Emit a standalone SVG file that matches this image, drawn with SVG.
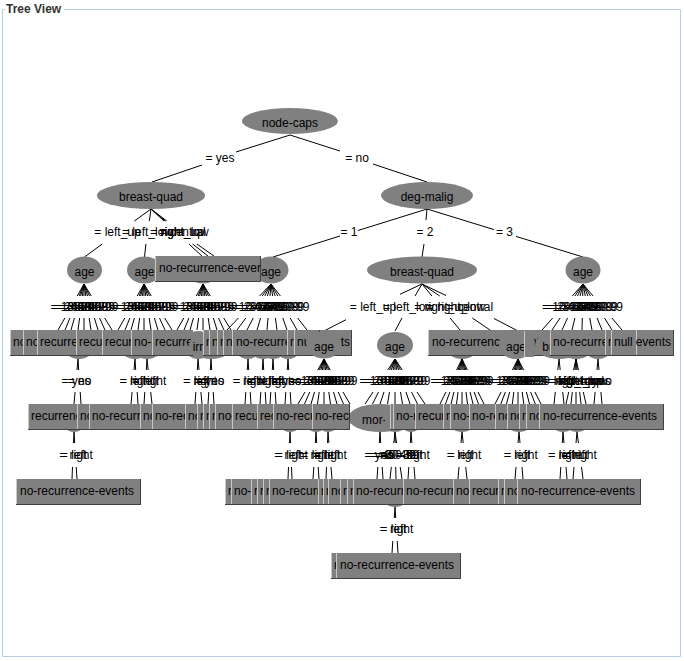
<svg xmlns="http://www.w3.org/2000/svg" width="684" height="661" viewBox="0 0 684 661">
<style>
.t{font-family:"Liberation Sans",Arial,sans-serif;font-size:12px;fill:#000}
.lb{font-family:"Liberation Sans",Arial,sans-serif;font-size:12px;fill:#000;text-anchor:middle}
.m{text-anchor:middle}
.e{fill:#808080}
.b{fill:#808080}
.l{stroke:#c8c8c8;fill:none}
.d{stroke:#404040;fill:none}
.c path{stroke:#000;stroke-width:1;fill:none}
.fr{stroke:#b5cde6;fill:none}
.ti{font-family:"Liberation Sans",Arial,sans-serif;font-size:12px;font-weight:bold;fill:#333}
</style>
<rect width="684" height="661" fill="#fff"/>
<path class="fr" d="M5 9.5H2.5V656.5H680.5V9.5H64"/>
<text class="ti" x="6" y="13">Tree View</text>

<g id="connectors" class="c">
<path d="M290 135L236 152M202 165L152 182"/>
<path d="M290 135L340 151M373 164L427 182"/>
<path d="M151 209L134.3 221M102.2 244L84.5 257"/>
<path d="M151 209L149.3 221M145.9 244L144.5 257"/>
<path d="M151 209L164 221M188.9 244L203 257"/>
<path d="M151 209L165.3 221M192.6 244L208 256"/>
<path d="M151 209L166.8 221M196.9 244L214 256"/>
<path d="M427 209L358 230.5M340 236L273 257"/>
<path d="M427 209L426 220M424 244L422 257"/>
<path d="M427 209L494 229.6M516 236.4L583 257"/>
<path d="M84 284L77.2 296M64.8 318L58 330"/><path d="M84 284L79.1 296M69.9 318L65 330"/><path d="M84 284L80.6 296M74.4 318L71 330"/><path d="M84 284L82.4 296M79.6 318L78 330"/><path d="M84 284L84 296M84 318L84 330"/><path d="M84 284L85.8 296M89.2 318L91 330"/><path d="M84 284L87.6 296M94.4 318L98 330"/><path d="M84 284L89.5 296M99.5 318L105 330"/><path d="M84 284L91.3 296M104.7 318L112 330"/>
<path d="M144 284L137.2 296M124.8 318L118 330"/><path d="M144 284L139.1 296M129.9 318L125 330"/><path d="M144 284L140.6 296M134.4 318L131 330"/><path d="M144 284L142.4 296M139.6 318L138 330"/><path d="M144 284L144 296M144 318L144 330"/><path d="M144 284L145.8 296M149.2 318L151 330"/><path d="M144 284L147.6 296M154.4 318L158 330"/><path d="M144 284L149.5 296M159.5 318L165 330"/><path d="M144 284L151.3 296M164.7 318L172 330"/>
<path d="M203 284L196.2 296M183.8 318L177 330"/><path d="M203 284L198.1 296M188.9 318L184 330"/><path d="M203 284L199.6 296M193.4 318L190 330"/><path d="M203 284L201.4 296M198.6 318L197 330"/><path d="M203 284L203 296M203 318L203 330"/><path d="M203 284L204.8 296M208.2 318L210 330"/><path d="M203 284L206.6 296M213.4 318L217 330"/><path d="M203 284L208.5 296M218.5 318L224 330"/><path d="M203 284L210.3 296M223.7 318L231 330"/>
<path d="M271 284L259.6 296M238.4 318L227 330"/><path d="M271 284L262.2 296M245.8 318L237 330"/><path d="M271 284L264.8 296M253.2 318L247 330"/><path d="M271 284L267.4 296M260.6 318L257 330"/><path d="M271 284L270 296M268 318L267 330"/><path d="M271 284L272.6 296M275.4 318L277 330"/><path d="M271 284L275.2 296M282.8 318L287 330"/><path d="M271 284L277.8 296M290.2 318L297 330"/><path d="M271 284L280.4 296M297.6 318L307 330"/>
<path d="M422 284L400 294.3M346 319.7L324 331"/><path d="M422 284L415 296M402 318L395 331"/><path d="M422 284L431.9 296M450.1 318L460 330"/><path d="M422 284L439.7 296M472.3 318L490 330"/><path d="M422 284L446 295.5M494 318.5L518 331"/>
<path d="M583 284L572.3 296M552.7 318L542 330"/><path d="M583 284L574.9 296M560.1 318L552 330"/><path d="M583 284L577.5 296M567.5 318L562 330"/><path d="M583 284L580.1 296M574.9 318L572 330"/><path d="M583 284L582.7 296M582.3 318L582 330"/><path d="M583 284L585.3 296M589.7 318L592 330"/><path d="M583 284L587.9 296M597.1 318L602 330"/><path d="M583 284L590.5 296M604.5 318L612 330"/><path d="M583 284L593.1 296M611.9 318L622 330"/>
<path d="M78 359L77 370M75.1 392L74 404"/><path d="M78 359L78.7 370M80.2 392L81 404"/>
<path d="M135 359L134 370M132.1 392L131 404"/><path d="M135 359L135.7 370M137.2 392L138 404"/>
<path d="M147 359L146.3 370M144.8 392L144 404"/><path d="M147 359L148.2 370M150.7 392L152 404"/>
<path d="M198 359L197.3 370M195.8 392L195 404"/><path d="M198 359L199 370M200.9 392L202 404"/>
<path d="M211 359L210.3 370M208.8 392L208 404"/><path d="M211 359L211.7 370M213.2 392L214 404"/>
<path d="M248 359L247.3 370M245.8 392L245 404"/><path d="M248 359L248.7 370M250.2 392L251 404"/>
<path d="M263 359L262.3 370M260.8 392L260 404"/><path d="M263 359L263.7 370M265.2 392L266 404"/>
<path d="M273 359L272.3 370M270.8 392L270 404"/><path d="M273 359L273.7 370M275.2 392L276 404"/>
<path d="M288 359L287.3 370M285.8 392L285 404"/><path d="M288 359L288.7 370M290.2 392L291 404"/>
<path d="M324 359L317.7 370M305 392L298 404"/><path d="M324 359L319.2 370M309.7 392L304.5 404"/><path d="M324 359L320.8 370M314.5 392L311 404"/><path d="M324 359L322.4 370M319.2 392L317.5 404"/><path d="M324 359L324 370M324 392L324 404"/><path d="M324 359L325.6 370M328.8 392L330.5 404"/><path d="M324 359L327.2 370M333.5 392L337 404"/><path d="M324 359L328.8 370M338.3 392L343.5 404"/><path d="M324 359L330.3 370M343 392L350 404"/>
<path d="M395 359L387.7 370M373 392L365 404"/><path d="M395 359L389.5 370M378.5 392L372.5 404"/><path d="M395 359L391.3 370M384 392L380 404"/><path d="M395 359L393.2 370M389.5 392L387.5 404"/><path d="M395 359L395 370M395 392L395 404"/><path d="M395 359L396.8 370M400.5 392L402.5 404"/><path d="M395 359L398.7 370M406 392L410 404"/><path d="M395 359L400.5 370M411.5 392L417.5 404"/><path d="M395 359L402.3 370M417 392L425 404"/>
<path d="M462 359L456.6 370M445.9 392L440 404"/><path d="M462 359L458 370M449.9 392L445.5 404"/><path d="M462 359L459.3 370M453.9 392L451 404"/><path d="M462 359L460.7 370M458 392L456.5 404"/><path d="M462 359L462 370M462 392L462 404"/><path d="M462 359L463.3 370M466 392L467.5 404"/><path d="M462 359L464.7 370M470.1 392L473 404"/><path d="M462 359L466 370M474.1 392L478.5 404"/><path d="M462 359L467.4 370M478.1 392L484 404"/>
<path d="M518 359L512.4 370M501.1 392L495 404"/><path d="M518 359L513.8 370M505.4 392L500.8 404"/><path d="M518 359L515.2 370M509.6 392L506.5 404"/><path d="M518 359L516.6 370M513.8 392L512.3 404"/><path d="M518 359L518 370M518 392L518 404"/><path d="M518 359L519.4 370M522.2 392L523.8 404"/><path d="M518 359L520.8 370M526.4 392L529.5 404"/><path d="M518 359L522.2 370M530.6 392L535.3 404"/><path d="M518 359L523.6 370M534.9 392L541 404"/>
<path d="M559 359L557.8 370M555.3 392L554 404"/><path d="M559 359L560.2 370M562.7 392L564 404"/>
<path d="M576 359L573.6 370M568.7 392L566 404"/><path d="M576 359L574.8 370M572.3 392L571 404"/><path d="M576 359L576 370M576 392L576 404"/><path d="M576 359L577.2 370M579.7 392L581 404"/><path d="M576 359L578.4 370M583.3 392L586 404"/>
<path d="M598 359L597 370M595.1 392L594 404"/><path d="M598 359L599 370M600.9 392L602 404"/>
<path d="M74 432L73.5 443M72.5 467L72 479"/><path d="M74 432L74.7 443M76.2 467L77 479"/>
<path d="M290 432L289.5 443M288.5 467L288 479"/><path d="M290 432L290.5 443M291.5 467L292 479"/>
<path d="M316 432L315.3 443M313.8 467L313 479"/><path d="M316 432L316.7 443M318.2 467L319 479"/>
<path d="M328 432L327.5 443M326.5 467L326 479"/><path d="M328 432L328.9 443M331 467L332 479"/>
<path d="M380 432L379.3 443M377.8 467L377 479"/><path d="M380 432L380.7 443M382.2 467L383 479"/>
<path d="M395 432L393.8 443M391.3 467L390 479"/><path d="M395 432L395.2 443M395.7 467L396 479"/><path d="M395 432L396.6 443M400.2 467L402 479"/>
<path d="M411 432L410.3 443M408.8 467L408 479"/><path d="M411 432L411.9 443M414 467L415 479"/>
<path d="M462 432L461 443M459 467L458 479"/><path d="M462 432L463.2 443M465.7 467L467 479"/>
<path d="M519 432L518 443M516 467L515 479"/><path d="M519 432L520 443M522 467L523 479"/>
<path d="M563 432L562.3 443M560.8 467L560 479"/><path d="M563 432L564 443M566 467L567 479"/>
<path d="M577 432L576 443M574 467L573 479"/><path d="M577 432L578.4 443M581.5 467L583 479"/>
<path d="M395 507L394.3 518M392.8 541L392 553"/><path d="M395 507L395.7 518M397.2 541L398 553"/>
</g>

<g id="edge-labels">
<text class="lb" x="220" y="162">= yes</text>
<text class="lb" x="357" y="162">= no</text>
<text class="lb" x="117.5" y="236">= left_up</text>
<text class="lb" x="147.5" y="236">= left_low</text>
<text class="lb" x="177" y="236">= right_up</text>
<text class="lb" x="179.5" y="236">= right_low</text>
<text class="lb" x="182.5" y="236">= central</text>
<text class="lb" x="349" y="236">= 1</text>
<text class="lb" x="425" y="236">= 2</text>
<text class="lb" x="504.5" y="236">= 3</text>
<text class="lb" x="71" y="311">= 10-19</text><text class="lb" x="74.5" y="311">= 20-29</text><text class="lb" x="77.5" y="311">= 30-39</text><text class="lb" x="81" y="311">= 40-49</text><text class="lb" x="84" y="311">= 50-59</text><text class="lb" x="87.5" y="311">= 60-69</text><text class="lb" x="91" y="311">= 70-79</text><text class="lb" x="94.5" y="311">= 80-89</text><text class="lb" x="98" y="311">= 90-99</text>
<text class="lb" x="131" y="311">= 10-19</text><text class="lb" x="134.5" y="311">= 20-29</text><text class="lb" x="137.5" y="311">= 30-39</text><text class="lb" x="141" y="311">= 40-49</text><text class="lb" x="144" y="311">= 50-59</text><text class="lb" x="147.5" y="311">= 60-69</text><text class="lb" x="151" y="311">= 70-79</text><text class="lb" x="154.5" y="311">= 80-89</text><text class="lb" x="158" y="311">= 90-99</text>
<text class="lb" x="190" y="311">= 10-19</text><text class="lb" x="193.5" y="311">= 20-29</text><text class="lb" x="196.5" y="311">= 30-39</text><text class="lb" x="200" y="311">= 40-49</text><text class="lb" x="203" y="311">= 50-59</text><text class="lb" x="206.5" y="311">= 60-69</text><text class="lb" x="210" y="311">= 70-79</text><text class="lb" x="213.5" y="311">= 80-89</text><text class="lb" x="217" y="311">= 90-99</text>
<text class="lb" x="249" y="311">= 10-19</text><text class="lb" x="254" y="311">= 20-29</text><text class="lb" x="259" y="311">= 30-39</text><text class="lb" x="264" y="311">= 40-49</text><text class="lb" x="269" y="311">= 50-59</text><text class="lb" x="274" y="311">= 60-69</text><text class="lb" x="279" y="311">= 70-79</text><text class="lb" x="284" y="311">= 80-89</text><text class="lb" x="289" y="311">= 90-99</text>
<text class="lb" x="373" y="311">= left_up</text><text class="lb" x="408.5" y="311">= left_low</text><text class="lb" x="441" y="311">= right_up</text><text class="lb" x="456" y="311">= right_low</text><text class="lb" x="470" y="311">= central</text>
<text class="lb" x="562.5" y="311">= 10-19</text><text class="lb" x="567.5" y="311">= 20-29</text><text class="lb" x="572.5" y="311">= 30-39</text><text class="lb" x="577.5" y="311">= 40-49</text><text class="lb" x="582.5" y="311">= 50-59</text><text class="lb" x="587.5" y="311">= 60-69</text><text class="lb" x="592.5" y="311">= 70-79</text><text class="lb" x="597.5" y="311">= 80-89</text><text class="lb" x="602.5" y="311">= 90-99</text>
<text class="lb" x="76" y="385">= yes</text><text class="lb" x="79.5" y="385">= no</text>
<text class="lb" x="133" y="385">= left</text><text class="lb" x="136.5" y="385">= right</text>
<text class="lb" x="145.5" y="385">= left</text><text class="lb" x="149.5" y="385">= right</text>
<text class="lb" x="196.5" y="385">= left</text><text class="lb" x="200" y="385">= right</text>
<text class="lb" x="209.5" y="385">= yes</text><text class="lb" x="212.5" y="385">= no</text>
<text class="lb" x="246.5" y="385">= left</text><text class="lb" x="249.5" y="385">= right</text>
<text class="lb" x="261.5" y="385">= left</text><text class="lb" x="264.5" y="385">= right</text>
<text class="lb" x="271.5" y="385">= left</text><text class="lb" x="274.5" y="385">= right</text>
<text class="lb" x="286.5" y="385">= yes</text><text class="lb" x="289.5" y="385">= no</text>
<text class="lb" x="311" y="385">= 10-19</text><text class="lb" x="314.3" y="385">= 20-29</text><text class="lb" x="317.5" y="385">= 30-39</text><text class="lb" x="320.8" y="385">= 40-49</text><text class="lb" x="324" y="385">= 50-59</text><text class="lb" x="327.3" y="385">= 60-69</text><text class="lb" x="330.5" y="385">= 70-79</text><text class="lb" x="333.8" y="385">= 80-89</text><text class="lb" x="337" y="385">= 90-99</text>
<text class="lb" x="380" y="385">= 10-19</text><text class="lb" x="383.8" y="385">= 20-29</text><text class="lb" x="387.5" y="385">= 30-39</text><text class="lb" x="391.3" y="385">= 40-49</text><text class="lb" x="395" y="385">= 50-59</text><text class="lb" x="398.8" y="385">= 60-69</text><text class="lb" x="402.5" y="385">= 70-79</text><text class="lb" x="406.3" y="385">= 80-89</text><text class="lb" x="410" y="385">= 90-99</text>
<text class="lb" x="451" y="385">= 10-19</text><text class="lb" x="453.8" y="385">= 20-29</text><text class="lb" x="456.5" y="385">= 30-39</text><text class="lb" x="459.3" y="385">= 40-49</text><text class="lb" x="462" y="385">= 50-59</text><text class="lb" x="464.8" y="385">= 60-69</text><text class="lb" x="467.5" y="385">= 70-79</text><text class="lb" x="470.3" y="385">= 80-89</text><text class="lb" x="473" y="385">= 90-99</text>
<text class="lb" x="506.5" y="385">= 10-19</text><text class="lb" x="509.4" y="385">= 20-29</text><text class="lb" x="512.3" y="385">= 30-39</text><text class="lb" x="515.1" y="385">= 40-49</text><text class="lb" x="518" y="385">= 50-59</text><text class="lb" x="520.9" y="385">= 60-69</text><text class="lb" x="523.8" y="385">= 70-79</text><text class="lb" x="526.6" y="385">= 80-89</text><text class="lb" x="529.5" y="385">= 90-99</text>
<text class="lb" x="556.5" y="385">= left</text><text class="lb" x="561.5" y="385">= right</text>
<text class="lb" x="571" y="385">= left_up</text><text class="lb" x="573.5" y="385">= left_low</text><text class="lb" x="576" y="385">= right_up</text><text class="lb" x="578.5" y="385">= right_low</text><text class="lb" x="581" y="385">= central</text>
<text class="lb" x="596" y="385">= yes</text><text class="lb" x="600" y="385">= no</text>
<text class="lb" x="74" y="459">= left</text><text class="lb" x="76" y="459">= right</text>
<text class="lb" x="289" y="459">= left</text><text class="lb" x="291" y="459">= right</text>
<text class="lb" x="314.5" y="459">= left</text><text class="lb" x="317" y="459">= right</text>
<text class="lb" x="327.5" y="459">= left</text><text class="lb" x="330" y="459">= right</text>
<text class="lb" x="379" y="459">= yes</text><text class="lb" x="381.5" y="459">= no</text>
<text class="lb" x="392.5" y="459">= 40-49</text><text class="lb" x="395.5" y="459">= 30-39</text><text class="lb" x="398.5" y="459">= 50-59</text>
<text class="lb" x="409.5" y="459">= left</text><text class="lb" x="413" y="459">= right</text>
<text class="lb" x="460" y="459">= left</text><text class="lb" x="464.5" y="459">= right</text>
<text class="lb" x="517" y="459">= left</text><text class="lb" x="521" y="459">= right</text>
<text class="lb" x="561.5" y="459">= left</text><text class="lb" x="565" y="459">= right</text>
<text class="lb" x="575" y="459">= left</text><text class="lb" x="580" y="459">= right</text>
<text class="lb" x="393.5" y="533">= left</text><text class="lb" x="396.5" y="533">= right</text>
</g>

<g id="node-caps"><ellipse class="e" cx="290" cy="121" rx="48" ry="13"/><text class="t m" x="290" y="127">node-caps</text></g>
<g id="breast-quad-1"><ellipse class="e" cx="151" cy="195.5" rx="54" ry="13.5"/><text class="t m" x="151" y="201">breast-quad</text></g>
<g id="deg-malig"><ellipse class="e" cx="427" cy="195.5" rx="46" ry="13.5"/><text class="t m" x="427" y="201">deg-malig</text></g>

<g id="age-2a"><ellipse class="e" cx="84.5" cy="270" rx="17.5" ry="13.5"/><text class="t m" x="84.5" y="276">age</text></g>
<g id="age-2b"><ellipse class="e" cx="144.5" cy="270" rx="17.5" ry="13.5"/><text class="t m" x="144.5" y="276">age</text></g>
<g id="age-2c"><ellipse class="e" cx="203" cy="270" rx="17.5" ry="13.5"/></g>
<g id="age-2d"><ellipse class="e" cx="271" cy="270" rx="17.5" ry="13.5"/><text class="t m" x="271" y="276">age</text></g>
<g id="leaf-2"><svg x="155" y="256" width="106" height="26"><rect class="b" width="106" height="26"/><path class="l" d="M0.5 0V26"/><path class="d" d="M0 25.5H105.5V0"/><text class="t" x="4" y="16">no-recurrence-events</text></svg></g>
<g id="breast-quad-2"><ellipse class="e" cx="422" cy="270" rx="55" ry="13.5"/><text class="t m" x="422" y="276">breast-quad</text></g>
<g id="age-2e"><ellipse class="e" cx="583" cy="270" rx="17.5" ry="13.5"/><text class="t m" x="583" y="276">age</text></g>

<g id="h3"><ellipse class="e" cx="79" cy="345" rx="16" ry="14"/><ellipse class="e" cx="135" cy="345" rx="16" ry="14"/><ellipse class="e" cx="147" cy="345" rx="16" ry="14"/><ellipse class="e" cx="198" cy="345" rx="14" ry="14"/><ellipse class="e" cx="248" cy="345" rx="14" ry="14"/><ellipse class="e" cx="263" cy="345" rx="14" ry="14"/><ellipse class="e" cx="273" cy="345" rx="14" ry="14"/><ellipse class="e" cx="288" cy="345" rx="14" ry="14"/><ellipse class="e" cx="462" cy="345" rx="17" ry="14"/><ellipse class="e" cx="576" cy="345" rx="18" ry="14"/><ellipse class="e" cx="598" cy="345" rx="15" ry="14"/></g>
<g id="r3-1"><svg x="10" y="330" width="13" height="26"><rect class="b" width="13" height="26"/><path class="l" d="M0.5 0V26"/><path class="d" d="M0 25.5H13"/><text class="t" x="3" y="16">no-recurrence-events</text></svg></g>
<g id="r3-2"><svg x="23" y="330" width="14" height="26"><rect class="b" width="14" height="26"/><path class="l" d="M0.5 0V26"/><path class="d" d="M0 25.5H14"/><text class="t" x="3" y="16">no-recurrence-events</text></svg></g>
<g id="r3-3"><svg x="37" y="330" width="39" height="26"><rect class="b" width="39" height="26"/><path class="l" d="M0.5 0V26"/><path class="d" d="M0 25.5H39"/><text class="t" x="3" y="16">recurrence-events</text></svg></g>
<g id="r3-4"><svg x="76" y="330" width="26" height="26"><rect class="b" width="26" height="26"/><path class="l" d="M0.5 0V26"/><path class="d" d="M0 25.5H26"/><text class="t" x="3" y="16">recurrence-events</text></svg></g>
<g id="r3-5"><svg x="102" y="330" width="29" height="26"><rect class="b" width="29" height="26"/><path class="l" d="M0.5 0V26"/><path class="d" d="M0 25.5H29"/><text class="t" x="3" y="16">recurrence-events</text></svg></g>
<g id="r3-6"><svg x="131" y="330" width="21" height="26"><rect class="b" width="21" height="26"/><path class="l" d="M0.5 0V26"/><path class="d" d="M0 25.5H21"/><text class="t" x="3" y="16">no-recurrence-events</text></svg></g>
<g id="r3-7"><svg x="152" y="330" width="41" height="26"><rect class="b" width="41" height="26"/><path class="l" d="M0.5 0V26"/><path class="d" d="M0 25.5H41"/><text class="t" x="3" y="16">recurrence-events</text></svg></g>
<g id="irradiat"><ellipse class="e" cx="211" cy="345" rx="22" ry="14"/><text class="t m" x="211" y="351">irradiat</text></g>
<g id="r3-8"><svg x="203" y="330" width="6" height="26"><rect class="b" width="6" height="26"/><path class="l" d="M0.5 0V26"/><path class="d" d="M0 25.5H6"/><text class="t" x="3" y="16">no-recurrence-events</text></svg></g>
<g id="r3-9"><svg x="209" y="330" width="8" height="26"><rect class="b" width="8" height="26"/><path class="l" d="M0.5 0V26"/><path class="d" d="M0 25.5H8"/><text class="t" x="3" y="16">null</text></svg></g>
<g id="r3-10"><svg x="217" y="330" width="6" height="26"><rect class="b" width="6" height="26"/><path class="l" d="M0.5 0V26"/><path class="d" d="M0 25.5H6"/><text class="t" x="3" y="16">no-recurrence-events</text></svg></g>
<g id="r3-11"><svg x="223" y="330" width="9" height="26"><rect class="b" width="9" height="26"/><path class="l" d="M0.5 0V26"/><path class="d" d="M0 25.5H9"/><text class="t" x="3" y="16">no-recurrence-events</text></svg></g>
<g id="r3-12"><svg x="232" y="330" width="120" height="26"><rect class="b" width="120" height="26"/><path class="l" d="M0.5 0V26"/><path class="d" d="M0 25.5H119.5V0"/><text class="t" x="4" y="16">no-recurrence-events</text></svg></g>
<g id="r3-13"><svg x="287" y="330" width="7" height="26"><rect class="b" width="7" height="26"/><path class="l" d="M0.5 0V26"/><path class="d" d="M0 25.5H7"/><text class="t" x="3" y="16">no-recurrence-events</text></svg></g>
<g id="r3-14"><svg x="294" y="330" width="26" height="26"><rect class="b" width="26" height="26"/><path class="l" d="M0.5 0V26"/><path class="d" d="M0 25.5H25.5V0"/><text class="t" x="3" y="16">null</text></svg></g>
<g id="age-3a"><ellipse class="e" cx="324" cy="345" rx="17.5" ry="13.5"/><text class="t m" x="324" y="351">age</text></g>
<g id="age-3b"><ellipse class="e" cx="395" cy="345" rx="18" ry="13"/><text class="t m" x="395" y="351">age</text></g>
<g id="r3-15"><svg x="428" y="330" width="125" height="26"><rect class="b" width="125" height="26"/><path class="l" d="M0.5 0V26"/><path class="d" d="M0 25.5H124.5V0"/><text class="t" x="4" y="16">no-recurrence-events</text></svg></g>
<g id="age-3c"><ellipse class="e" cx="516" cy="345" rx="17" ry="14"/><text class="t m" x="516" y="351">age</text></g>
<g id="r3-15b"><svg x="524" y="331" width="10" height="26"><rect class="b" width="10" height="26"/><path class="l" d="M0.5 0V26"/></svg></g>
<g id="breast"><ellipse class="e" cx="559" cy="345" rx="24" ry="14"/><text class="t m" x="559" y="351">breast</text></g>
<g id="r3-16"><svg x="550" y="330" width="55" height="26"><rect class="b" width="55" height="26"/><path class="l" d="M0.5 0V26"/><path class="d" d="M0 25.5H55"/><text class="t" x="3" y="16">no-recurrence-events</text></svg></g>
<g id="r3-17"><svg x="605" y="330" width="6" height="26"><rect class="b" width="6" height="26"/><path class="l" d="M0.5 0V26"/><path class="d" d="M0 25.5H6"/><text class="t" x="3" y="16">no-recurrence-events</text></svg></g>
<g id="r3-18"><svg x="611" y="330" width="25" height="26"><rect class="b" width="25" height="26"/><path class="l" d="M0.5 0V26"/><path class="d" d="M0 25.5H25"/><text class="t" x="3" y="16">null</text></svg></g>
<g id="r3-19"><svg x="636" y="330" width="38" height="26"><rect class="b" width="38" height="26"/><path class="l" d="M0.5 0V26"/><path class="d" d="M0 25.5H37.5V0"/><text class="t" x="35" y="16" text-anchor="end">no-recurrence-events</text></svg></g>

<g id="h4"><ellipse class="e" cx="74" cy="418" rx="13" ry="14"/><ellipse class="e" cx="290" cy="418" rx="13" ry="14"/><ellipse class="e" cx="316" cy="418" rx="12" ry="14"/><ellipse class="e" cx="328" cy="418" rx="12" ry="14"/><ellipse class="e" cx="395" cy="418" rx="14" ry="14"/><ellipse class="e" cx="411" cy="418" rx="12" ry="14"/><ellipse class="e" cx="462" cy="418" rx="15" ry="14"/><ellipse class="e" cx="519" cy="418" rx="15" ry="14"/><ellipse class="e" cx="563" cy="418" rx="14" ry="14"/><ellipse class="e" cx="577" cy="418" rx="14" ry="14"/></g>
<g id="r4-1"><svg x="28" y="404" width="49" height="26"><rect class="b" width="49" height="26"/><path class="l" d="M0.5 0V26"/><path class="d" d="M0 25.5H49"/><text class="t" x="3" y="16">recurrence-events</text></svg></g>
<g id="r4-2"><svg x="77" y="404" width="12" height="26"><rect class="b" width="12" height="26"/><path class="l" d="M0.5 0V26"/><path class="d" d="M0 25.5H12"/><text class="t" x="3" y="16">no-recurrence-events</text></svg></g>
<g id="r4-3"><svg x="89" y="404" width="51" height="26"><rect class="b" width="51" height="26"/><path class="l" d="M0.5 0V26"/><path class="d" d="M0 25.5H51"/><text class="t" x="3" y="16">no-recurrence-events</text></svg></g>
<g id="r4-4"><svg x="140" y="404" width="12" height="26"><rect class="b" width="12" height="26"/><path class="l" d="M0.5 0V26"/><path class="d" d="M0 25.5H12"/><text class="t" x="3" y="16">no-recurrence-events</text></svg></g>
<g id="r4-5"><svg x="152" y="404" width="33" height="26"><rect class="b" width="33" height="26"/><path class="l" d="M0.5 0V26"/><path class="d" d="M0 25.5H33"/><text class="t" x="3" y="16">no-recurrence-events</text></svg></g>
<g id="r4-6"><svg x="185" y="404" width="12" height="26"><rect class="b" width="12" height="26"/><path class="l" d="M0.5 0V26"/><path class="d" d="M0 25.5H12"/><text class="t" x="3" y="16">no-recurrence-events</text></svg></g>
<g id="r4-7"><svg x="197" y="404" width="6" height="26"><rect class="b" width="6" height="26"/><path class="l" d="M0.5 0V26"/><path class="d" d="M0 25.5H6"/><text class="t" x="3" y="16">no-recurrence-events</text></svg></g>
<g id="r4-8"><svg x="203" y="404" width="6" height="26"><rect class="b" width="6" height="26"/><path class="l" d="M0.5 0V26"/><path class="d" d="M0 25.5H6"/><text class="t" x="3" y="16">no-recurrence-events</text></svg></g>
<g id="r4-9"><svg x="209" y="404" width="6" height="26"><rect class="b" width="6" height="26"/><path class="l" d="M0.5 0V26"/><path class="d" d="M0 25.5H6"/><text class="t" x="3" y="16">no-recurrence-events</text></svg></g>
<g id="r4-10"><svg x="215" y="404" width="17" height="26"><rect class="b" width="17" height="26"/><path class="l" d="M0.5 0V26"/><path class="d" d="M0 25.5H17"/><text class="t" x="3" y="16">no-recurrence-events</text></svg></g>
<g id="r4-11"><svg x="232" y="404" width="25" height="26"><rect class="b" width="25" height="26"/><path class="l" d="M0.5 0V26"/><path class="d" d="M0 25.5H25"/><text class="t" x="3" y="16">recurrence-events</text></svg></g>
<g id="r4-12"><svg x="257" y="404" width="16" height="26"><rect class="b" width="16" height="26"/><path class="l" d="M0.5 0V26"/><path class="d" d="M0 25.5H16"/><text class="t" x="3" y="16">recurrence-events</text></svg></g>
<g id="r4-13"><svg x="273" y="404" width="39" height="26"><rect class="b" width="39" height="26"/><path class="l" d="M0.5 0V26"/><path class="d" d="M0 25.5H39"/><text class="t" x="3" y="16">no-recurrence-events</text></svg></g>
<g id="tumor-size"><ellipse class="e" cx="380" cy="418" rx="32" ry="14"/><svg x="362" y="404" width="23" height="28"><text class="t m" x="18" y="20">tumor-size</text></svg></g>
<g id="r4-14"><svg x="312" y="404" width="38" height="26"><rect class="b" width="38" height="26"/><path class="l" d="M0.5 0V26"/><path class="d" d="M0 25.5H37.5V0"/><text class="t" x="3" y="16">no-recurrence-events</text></svg></g>
<g id="r4-15"><svg x="390" y="404" width="3" height="26"><rect class="b" width="3" height="26"/><path class="l" d="M0.5 0V26"/><path class="d" d="M0 25.5H3"/></svg></g>
<g id="r4-16"><svg x="393" y="404" width="22" height="26"><rect class="b" width="22" height="26"/><path class="l" d="M0.5 0V26"/><path class="d" d="M0 25.5H22"/><text class="t" x="3" y="16">no-recurrence-events</text></svg></g>
<g id="r4-17"><svg x="415" y="404" width="28" height="26"><rect class="b" width="28" height="26"/><path class="l" d="M0.5 0V26"/><path class="d" d="M0 25.5H28"/><text class="t" x="3" y="16">recurrence-events</text></svg></g>
<g id="r4-18"><svg x="443" y="404" width="7" height="26"><rect class="b" width="7" height="26"/><path class="l" d="M0.5 0V26"/><path class="d" d="M0 25.5H7"/><text class="t" x="3" y="16">no-recurrence-events</text></svg></g>
<g id="r4-19"><svg x="450" y="404" width="19" height="26"><rect class="b" width="19" height="26"/><path class="l" d="M0.5 0V26"/><path class="d" d="M0 25.5H19"/><text class="t" x="3" y="16">no-recurrence-events</text></svg></g>
<g id="r4-20"><svg x="469" y="404" width="26" height="26"><rect class="b" width="26" height="26"/><path class="l" d="M0.5 0V26"/><path class="d" d="M0 25.5H26"/><text class="t" x="3" y="16">no-recurrence-events</text></svg></g>
<g id="r4-21"><svg x="495" y="404" width="12" height="26"><rect class="b" width="12" height="26"/><path class="l" d="M0.5 0V26"/><path class="d" d="M0 25.5H12"/><text class="t" x="3" y="16">no-recurrence-events</text></svg></g>
<g id="r4-22"><svg x="507" y="404" width="12" height="26"><rect class="b" width="12" height="26"/><path class="l" d="M0.5 0V26"/><path class="d" d="M0 25.5H12"/><text class="t" x="3" y="16">no-recurrence-events</text></svg></g>
<g id="r4-23"><svg x="519" y="404" width="7" height="26"><rect class="b" width="7" height="26"/><path class="l" d="M0.5 0V26"/><path class="d" d="M0 25.5H7"/><text class="t" x="3" y="16">no-recurrence-events</text></svg></g>
<g id="r4-24"><svg x="526" y="404" width="13" height="26"><rect class="b" width="13" height="26"/><path class="l" d="M0.5 0V26"/><path class="d" d="M0 25.5H13"/><text class="t" x="3" y="16">no-recurrence-events</text></svg></g>
<g id="r4-25"><svg x="539" y="404" width="125" height="26"><rect class="b" width="125" height="26"/><path class="l" d="M0.5 0V26"/><path class="d" d="M0 25.5H124.5V0"/><text class="t" x="4" y="16">no-recurrence-events</text></svg></g>

<g id="h5"><ellipse class="e" cx="395" cy="493" rx="15" ry="14"/></g>
<g id="r5-1"><svg x="16" y="479" width="125" height="26"><rect class="b" width="125" height="26"/><path class="l" d="M0.5 0V26"/><path class="d" d="M0 25.5H124.5V0"/><text class="t" x="4" y="16">no-recurrence-events</text></svg></g>
<g id="r5-2"><svg x="225" y="479" width="6" height="26"><rect class="b" width="6" height="26"/><path class="l" d="M0.5 0V26"/><path class="d" d="M0 25.5H6"/><text class="t" x="3" y="16">no-recurrence-events</text></svg></g>
<g id="r5-3"><svg x="231" y="479" width="20" height="26"><rect class="b" width="20" height="26"/><path class="l" d="M0.5 0V26"/><path class="d" d="M0 25.5H20"/><text class="t" x="3" y="16">no-recurrence-events</text></svg></g>
<g id="r5-4"><svg x="251" y="479" width="6" height="26"><rect class="b" width="6" height="26"/><path class="l" d="M0.5 0V26"/><path class="d" d="M0 25.5H6"/><text class="t" x="3" y="16">recurrence-events</text></svg></g>
<g id="r5-5"><svg x="257" y="479" width="6" height="26"><rect class="b" width="6" height="26"/><path class="l" d="M0.5 0V26"/><path class="d" d="M0 25.5H6"/><text class="t" x="3" y="16">no-recurrence-events</text></svg></g>
<g id="r5-6"><svg x="263" y="479" width="6" height="26"><rect class="b" width="6" height="26"/><path class="l" d="M0.5 0V26"/><path class="d" d="M0 25.5H6"/><text class="t" x="3" y="16">no-recurrence-events</text></svg></g>
<g id="r5-7"><svg x="269" y="479" width="49" height="26"><rect class="b" width="49" height="26"/><path class="l" d="M0.5 0V26"/><path class="d" d="M0 25.5H49"/><text class="t" x="3" y="16">no-recurrence-events</text></svg></g>
<g id="r5-8"><svg x="318" y="479" width="5" height="26"><rect class="b" width="5" height="26"/><path class="l" d="M0.5 0V26"/><path class="d" d="M0 25.5H5"/><text class="t" x="3" y="16">no-recurrence-events</text></svg></g>
<g id="r5-9"><svg x="323" y="479" width="5" height="26"><rect class="b" width="5" height="26"/><path class="l" d="M0.5 0V26"/><path class="d" d="M0 25.5H5"/><text class="t" x="3" y="16">recurrence-events</text></svg></g>
<g id="r5-10"><svg x="328" y="479" width="12" height="26"><rect class="b" width="12" height="26"/><path class="l" d="M0.5 0V26"/><path class="d" d="M0 25.5H12"/><text class="t" x="3" y="16">no-recurrence-events</text></svg></g>
<g id="r5-11"><svg x="340" y="479" width="7" height="26"><rect class="b" width="7" height="26"/><path class="l" d="M0.5 0V26"/><path class="d" d="M0 25.5H7"/><text class="t" x="3" y="16">no-recurrence-events</text></svg></g>
<g id="r5-12"><svg x="347" y="479" width="6" height="26"><rect class="b" width="6" height="26"/><path class="l" d="M0.5 0V26"/><path class="d" d="M0 25.5H6"/><text class="t" x="3" y="16">no-recurrence-events</text></svg></g>
<g id="r5-13"><svg x="353" y="479" width="50" height="26"><rect class="b" width="50" height="26"/><path class="l" d="M0.5 0V26"/><path class="d" d="M0 25.5H50"/><text class="t" x="3" y="16">no-recurrence-events</text></svg></g>
<g id="r5-14"><svg x="403" y="479" width="50" height="26"><rect class="b" width="50" height="26"/><path class="l" d="M0.5 0V26"/><path class="d" d="M0 25.5H50"/><text class="t" x="3" y="16">no-recurrence-events</text></svg></g>
<g id="r5-15"><svg x="453" y="479" width="16" height="26"><rect class="b" width="16" height="26"/><path class="l" d="M0.5 0V26"/><path class="d" d="M0 25.5H16"/><text class="t" x="3" y="16">no-recurrence-events</text></svg></g>
<g id="r5-16"><svg x="469" y="479" width="29" height="26"><rect class="b" width="29" height="26"/><path class="l" d="M0.5 0V26"/><path class="d" d="M0 25.5H29"/><text class="t" x="3" y="16">recurrence-events</text></svg></g>
<g id="r5-17"><svg x="498" y="479" width="6" height="26"><rect class="b" width="6" height="26"/><path class="l" d="M0.5 0V26"/><path class="d" d="M0 25.5H6"/><text class="t" x="3" y="16">no-recurrence-events</text></svg></g>
<g id="r5-18"><svg x="504" y="479" width="13" height="26"><rect class="b" width="13" height="26"/><path class="l" d="M0.5 0V26"/><path class="d" d="M0 25.5H13"/><text class="t" x="3" y="16">no-recurrence-events</text></svg></g>
<g id="r5-19"><svg x="517" y="479" width="124" height="26"><rect class="b" width="124" height="26"/><path class="l" d="M0.5 0V26"/><path class="d" d="M0 25.5H123.5V0"/><text class="t" x="4" y="16">no-recurrence-events</text></svg></g>

<g id="r6-1"><svg x="331" y="553" width="5" height="26"><rect class="b" width="5" height="26"/><path class="l" d="M0.5 0V26"/><path class="d" d="M0 25.5H5"/><text class="t" x="3" y="16">no-recurrence-events</text></svg></g>
<g id="r6-2"><svg x="336" y="553" width="125" height="26"><rect class="b" width="125" height="26"/><path class="l" d="M0.5 0V26"/><path class="d" d="M0 25.5H124.5V0"/><text class="t" x="4" y="16">no-recurrence-events</text></svg></g>
</svg>
